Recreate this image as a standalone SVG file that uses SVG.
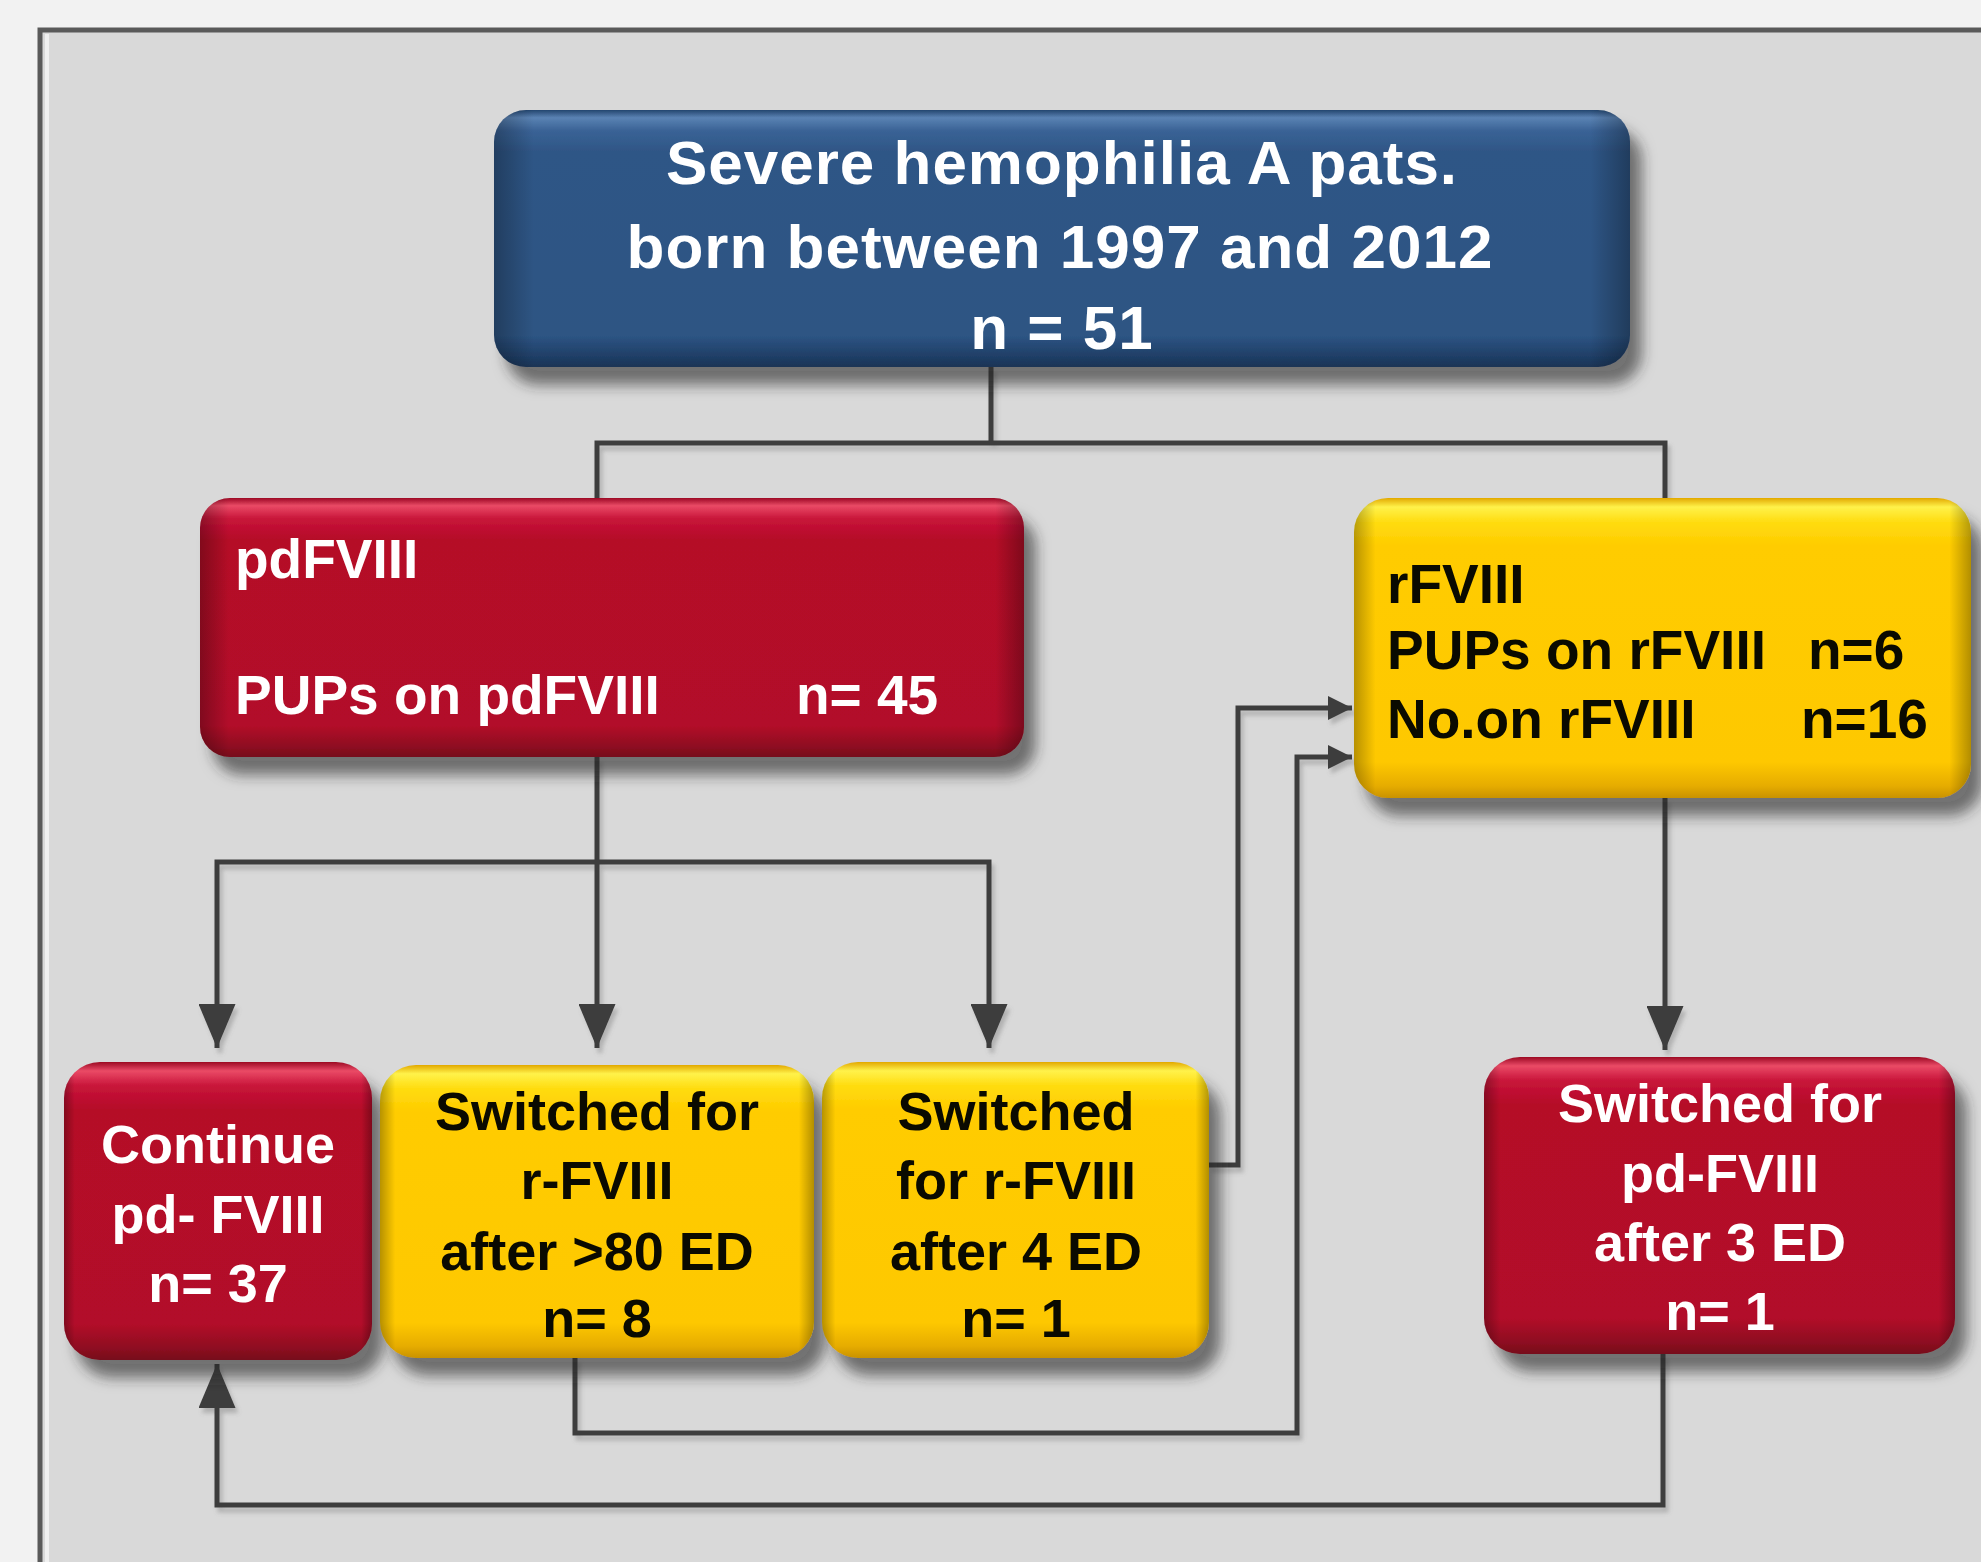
<svg xmlns="http://www.w3.org/2000/svg" width="1981" height="1562" viewBox="0 0 1981 1562">
<style>
.t{font-family:"Liberation Sans",Arial,sans-serif;font-weight:bold}
.w{fill:#ffffff}
.k{fill:#0a0a00}
.c{fill:none;stroke:#3c3c3c;stroke-width:5;stroke-linejoin:miter}
.m{text-anchor:middle}
</style>
<defs>
<linearGradient id="gBlue" x1="0" y1="0" x2="0" y2="1">
<stop offset="0" stop-color="#24466f"/>
<stop offset="0.03" stop-color="#5a82b3"/>
<stop offset="0.08" stop-color="#3a6396"/>
<stop offset="0.16" stop-color="#2f5686"/>
<stop offset="0.88" stop-color="#2d5483"/>
<stop offset="0.96" stop-color="#1f3e66"/>
<stop offset="1" stop-color="#1a3455"/>
</linearGradient>
<linearGradient id="gRed" x1="0" y1="0" x2="0" y2="1">
<stop offset="0" stop-color="#9c0a24"/>
<stop offset="0.03" stop-color="#ea4a66"/>
<stop offset="0.08" stop-color="#c8153a"/>
<stop offset="0.16" stop-color="#b50828"/>
<stop offset="0.88" stop-color="#b20a29"/>
<stop offset="0.96" stop-color="#8e0a21"/>
<stop offset="1" stop-color="#760a1b"/>
</linearGradient>
<linearGradient id="gYel" x1="0" y1="0" x2="0" y2="1">
<stop offset="0" stop-color="#e2a800"/>
<stop offset="0.03" stop-color="#fff24a"/>
<stop offset="0.08" stop-color="#ffdc10"/>
<stop offset="0.16" stop-color="#ffcc00"/>
<stop offset="0.88" stop-color="#fec800"/>
<stop offset="0.96" stop-color="#e6ac00"/>
<stop offset="1" stop-color="#c99200"/>
</linearGradient>
<linearGradient id="gSide" x1="0" y1="0" x2="1" y2="0">
<stop offset="0" stop-color="#000" stop-opacity="0.28"/>
<stop offset="0.035" stop-color="#000" stop-opacity="0"/>
<stop offset="0.965" stop-color="#000" stop-opacity="0"/>
<stop offset="1" stop-color="#000" stop-opacity="0.3"/>
</linearGradient>
<filter id="shadow" x="-10%" y="-10%" width="130%" height="140%">
<feGaussianBlur in="SourceAlpha" stdDeviation="7"/>
<feOffset dx="12" dy="18" result="b"/>
<feFlood flood-color="#2a2a2a" flood-opacity="0.6"/>
<feComposite in2="b" operator="in"/>
<feMerge><feMergeNode/><feMergeNode in="SourceGraphic"/></feMerge>
</filter>
<filter id="lshadow" x="-5%" y="-5%" width="110%" height="110%">
<feGaussianBlur in="SourceAlpha" stdDeviation="2"/>
<feOffset dx="3" dy="5" result="b"/>
<feFlood flood-color="#666" flood-opacity="0.35"/>
<feComposite in2="b" operator="in"/>
<feMerge><feMergeNode/><feMergeNode in="SourceGraphic"/></feMerge>
</filter>
<marker id="aBig" viewBox="0 0 44 37" refX="44" refY="18.5" markerWidth="44" markerHeight="37" markerUnits="userSpaceOnUse" orient="auto">
<path d="M0,0 L44,18.5 L0,37 Z" fill="#3c3c3c"/>
</marker>
<marker id="aSmall" viewBox="0 0 24 24" refX="24" refY="12" markerWidth="24" markerHeight="24" markerUnits="userSpaceOnUse" orient="auto">
<path d="M0,0 L24,12 L0,24 Z" fill="#3c3c3c"/>
</marker>
</defs>

<rect x="0" y="0" width="1981" height="1562" fill="#f2f2f2"/>
<rect x="40" y="30" width="1960" height="1560" fill="#d9d9d9" stroke="#5a5a5a" stroke-width="5"/>
<line x1="47" y1="34" x2="47" y2="1562" stroke="#f0f0f0" stroke-width="4"/>

<g id="connectors" filter="url(#lshadow)">
<path class="c" d="M991,367 V443 M597,498 V443 H1665 V498"/>
<path class="c" d="M597,757 V1048" marker-end="url(#aBig)"/>
<path class="c" d="M597,862 H217 V1048" marker-end="url(#aBig)"/>
<path class="c" d="M597,862 H989 V1048" marker-end="url(#aBig)"/>
<path class="c" d="M1665,798 V1050" marker-end="url(#aBig)"/>
<path class="c" d="M1209,1165 H1238 V708 H1352" marker-end="url(#aSmall)"/>
<path class="c" d="M575,1358 V1433 H1297 V757 H1352" marker-end="url(#aSmall)"/>
<path class="c" d="M1663,1354 V1505 H217 V1364" marker-end="url(#aBig)"/>
</g>

<g id="node-top">
<rect x="494" y="110" width="1136" height="257" rx="32" fill="url(#gBlue)" filter="url(#shadow)"/>
<rect x="494" y="110" width="1136" height="257" rx="32" fill="url(#gSide)"/>
<text class="t w m" x="1062" y="184" font-size="62" letter-spacing="1">Severe hemophilia A pats.</text>
<text class="t w m" x="1060" y="268" font-size="62" letter-spacing="1">born between 1997 and 2012</text>
<text class="t w m" x="1062" y="349" font-size="62" letter-spacing="1">n = 51</text>
</g>

<g id="node-pdfviii">
<rect x="200" y="498" width="824" height="259" rx="30" fill="url(#gRed)" filter="url(#shadow)"/>
<rect x="200" y="498" width="824" height="259" rx="30" fill="url(#gSide)"/>
<text class="t w" x="235" y="578" font-size="55">pdFVIII</text>
<text class="t w" x="235" y="714" font-size="55">PUPs on pdFVIII</text>
<text class="t w" x="796" y="714" font-size="55">n= 45</text>
</g>

<g id="node-rfviii">
<rect x="1354" y="498" width="617" height="300" rx="34" fill="url(#gYel)" filter="url(#shadow)"/>
<rect x="1354" y="498" width="617" height="300" rx="34" fill="url(#gSide)"/>
<text class="t k" x="1387" y="603" font-size="55">rFVIII</text>
<text class="t k" x="1387" y="669" font-size="55">PUPs on rFVIII</text>
<text class="t k" x="1808" y="669" font-size="55">n=6</text>
<text class="t k" x="1387" y="738" font-size="55">No.on rFVIII</text>
<text class="t k" x="1801" y="738" font-size="55">n=16</text>
</g>

<g id="node-continue">
<rect x="64" y="1062" width="308" height="298" rx="36" fill="url(#gRed)" filter="url(#shadow)"/>
<rect x="64" y="1062" width="308" height="298" rx="36" fill="url(#gSide)"/>
<text class="t w m" x="218" y="1163" font-size="54">Continue</text>
<text class="t w m" x="218" y="1233" font-size="54">pd- FVIII</text>
<text class="t w m" x="218" y="1302" font-size="54">n= 37</text>
</g>

<g id="node-switch80">
<rect x="380" y="1065" width="434" height="293" rx="36" fill="url(#gYel)" filter="url(#shadow)"/>
<rect x="380" y="1065" width="434" height="293" rx="36" fill="url(#gSide)"/>
<text class="t k m" x="597" y="1130" font-size="54">Switched for</text>
<text class="t k m" x="597" y="1199" font-size="54">r-FVIII</text>
<text class="t k m" x="597" y="1270" font-size="54">after &gt;80 ED</text>
<text class="t k m" x="597" y="1337" font-size="54">n= 8</text>
</g>

<g id="node-switch4">
<rect x="822" y="1062" width="387" height="296" rx="36" fill="url(#gYel)" filter="url(#shadow)"/>
<rect x="822" y="1062" width="387" height="296" rx="36" fill="url(#gSide)"/>
<text class="t k m" x="1016" y="1130" font-size="54">Switched</text>
<text class="t k m" x="1016" y="1199" font-size="54">for r-FVIII</text>
<text class="t k m" x="1016" y="1270" font-size="54">after 4 ED</text>
<text class="t k m" x="1016" y="1337" font-size="54">n= 1</text>
</g>

<g id="node-switchpd">
<rect x="1484" y="1057" width="471" height="297" rx="36" fill="url(#gRed)" filter="url(#shadow)"/>
<rect x="1484" y="1057" width="471" height="297" rx="36" fill="url(#gSide)"/>
<text class="t w m" x="1720" y="1122" font-size="54">Switched for</text>
<text class="t w m" x="1720" y="1192" font-size="54">pd-FVIII</text>
<text class="t w m" x="1720" y="1261" font-size="54">after 3 ED</text>
<text class="t w m" x="1720" y="1330" font-size="54">n= 1</text>
</g>
</svg>
